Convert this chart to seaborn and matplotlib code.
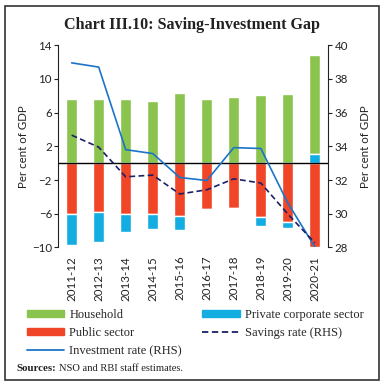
import numpy as np
import pandas as pd
import matplotlib
import matplotlib.pyplot as plt
import seaborn as sns
from matplotlib.patches import Patch, Rectangle
from matplotlib.lines import Line2D

plt.switch_backend('Agg')

# data
years = ["2011-12", "2012-13", "2013-14", "2014-15", "2015-16",
         "2016-17", "2017-18", "2018-19", "2019-20", "2020-21"]
household = [7.67, 7.67, 7.6, 7.35, 8.36, 7.67, 7.87, 8.1, 8.2, 11.8]
public_sector = [-5.98, -5.78, -5.98, -6.06, -6.3, -5.39, -5.31, -6.37, -7.0, -10.0]
private_corp = [-3.75, -3.59, -2.17, -1.70, -1.65, -0.2, -0.15, -1.11, -0.64, 1.04]
investment_rate = [38.95, 38.7, 33.8, 33.57, 32.15, 31.97, 33.92, 33.87, 30.63, 28.03]
savings_rate = [34.66, 33.95, 32.19, 32.29, 31.17, 31.42, 32.07, 31.82, 29.98, 28.27]

GREEN = "#8bc34f"
RED = "#f04526"
CYAN = "#14ade2"
BLUE = "#1c74c9"
NAVY = "#1d1f66"
TEXT = "#222222"

df = pd.DataFrame({
    "year": years,
    "household": household,
    "public": public_sector,
    "private": private_corp,
})
# stacking: household sits on positive private, private hangs below public when negative
df["hh_bottom"] = df["private"].clip(lower=0)
df["priv_bottom"] = np.where(df["private"] < 0, df["public"], 0.0)

sns.set_style("white")
plt.rcParams["font.family"] = ["Lato", "DejaVu Sans"]

fig = plt.figure(figsize=(3.85, 3.86), dpi=100)
ax = fig.add_axes([0.151, 0.359, 0.702, 0.524])

sns.barplot(data=df, x="year", y="household", bottom=df["hh_bottom"], color=GREEN,
            width=0.4, saturation=1, ax=ax, errorbar=None)
sns.barplot(data=df, x="year", y="public", color=RED,
            width=0.4, saturation=1, ax=ax, errorbar=None)
sns.barplot(data=df, x="year", y="private", bottom=df["priv_bottom"], color=CYAN,
            width=0.4, saturation=1, ax=ax, errorbar=None)

ax.axhline(0, color="black", lw=1.0, zorder=5)
ax.set_xlim(-0.5, len(years) - 0.5)
ax.set_ylim(-10, 14)
ax.set_yticks([14, 10, 6, 2, -2, -6, -10])
ax.set_xlabel("")
ax.set_ylabel("Per cent of GDP", fontsize=8.3, color=TEXT)
ax.yaxis.set_label_coords(-0.108, 0.5)
ax.tick_params(axis="x", length=0, pad=6, labelsize=8.3, labelrotation=90, colors=TEXT)
ax.tick_params(axis="y", left=True, length=3, width=0.8, pad=1.5, labelsize=8.3, colors=TEXT)
for side in ["top", "bottom", "right"]:
    ax.spines[side].set_visible(False)
ax.spines["left"].set_color(TEXT)
ax.spines["left"].set_linewidth(0.8)

ax2 = ax.twinx()
pos = np.arange(len(years))
sns.lineplot(x=pos, y=investment_rate, color=BLUE, lw=1.2, ax=ax2)
sns.lineplot(x=pos, y=savings_rate, color=NAVY, lw=1.2, ax=ax2, linestyle=(0, (3.5, 2)))
ax2.set_ylim(28, 40)
ax2.set_yticks([40, 38, 36, 34, 32, 30, 28])
ax2.set_ylabel("Per cent of GDP", fontsize=8.3, color=TEXT)
ax2.yaxis.set_label_coords(1.118, 0.5)
ax2.tick_params(axis="y", right=True, length=3, width=0.8, pad=1.5, labelsize=8.3, colors=TEXT)
for side in ["top", "bottom", "left"]:
    ax2.spines[side].set_visible(False)
ax2.spines["right"].set_color(TEXT)
ax2.spines["right"].set_linewidth(0.8)
ax2.set_xlim(-0.5, len(years) - 0.5)

serif = ["Liberation Serif", "DejaVu Serif"]
fig.text(0.5, 0.935, "Chart III.10: Saving-Investment Gap", ha="center", va="center",
         fontsize=11.6, fontweight="bold", family=serif, color=TEXT)

handles = [
    Patch(color=GREEN, label="Household"),
    Patch(color=RED, label="Public sector"),
    Line2D([], [], color=BLUE, lw=1.3, label="Investment rate (RHS)"),
    Patch(color=CYAN, label="Private corporate sector"),
    Line2D([], [], color=NAVY, lw=1.3, linestyle=(0, (3.5, 2)), label="Savings rate (RHS)"),
]
fig.legend(handles=handles, ncol=2, loc="upper left", bbox_to_anchor=(0.07, 0.2),
           frameon=False, prop={"family": serif, "size": 9}, handlelength=3.0,
           handleheight=0.45, handletextpad=0.4, labelspacing=0.5, columnspacing=1.6,
           borderaxespad=0, borderpad=0)

fig.text(0.042, 0.046, "Sources:", fontsize=7.8, fontweight="bold", family=serif,
         color=TEXT, va="center")
fig.text(0.153, 0.046, "NSO and RBI staff estimates.", fontsize=7.6, family=serif,
         color=TEXT, va="center")

fig.patches.append(Rectangle((0.013, 0.015), 0.972, 0.97, transform=fig.transFigure,
                             fill=False, edgecolor="#333333", lw=1.2))

fig.savefig("out.png", dpi=100)
plt.close("all")
